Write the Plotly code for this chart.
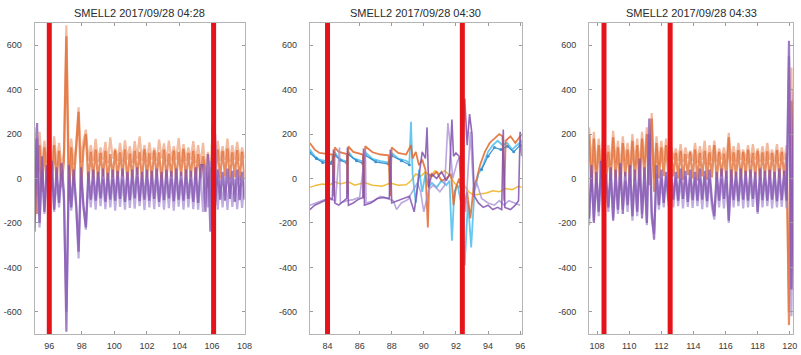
import numpy as np
import plotly.graph_objects as go

# ---------------------------------------------------------------------------
# Three SMELL2 recordings, 2017/09/28
# ---------------------------------------------------------------------------
titles = ["SMELL2 2017/09/28 04:28", "SMELL2 2017/09/28 04:30", "SMELL2 2017/09/28 04:33"]

# sampling of the dense recordings (start time, step)
p1_start, p1_step = 95.1, 0.15
p3_start, p3_step = 107.5, 0.15

# --- recording 04:28 --------------------------------------------------------
p1_salmon = [230, -80, 210, 60, 170, 70, 165, 40, 190, 60, 160, 50, 120, 690, 40, 180, 60, 150, 320, 70,
             170, 220, 80, 150, 80, 178, 75, 140, 85, 165, 70, 185, 90, 135, 80, 160, 75, 172, 85, 145,
             70, 168, 90, 190, 80, 150, 75, 162, 85, 138, 80, 175, 90, 158, 75, 170, 80, 145, 85, 182,
             75, 155, 80, 140, 85, 168, 70, 150, 60, 160, 40, 120, 30, 240, 60, 170, 80, 145, 85, 180,
             75, 150, 85, 165, 80, 140, 90]
p1_orange = [180, -160, 150, -60, 140, -20, 135, -50, 150, -10, 125, -40, 80, 640, -100, 140, -30, 120, 300, -50,
             130, 200, -20, 120, 0, 130, -10, 115, 10, 125, -15, 110, 5, 128, -5, 118, 10, 130, -10, 112,
             0, 125, 15, 120, -10, 132, 5, 115, -5, 127, 10, 118, -15, 130, 0, 112, 8, 126, -8, 120,
             12, 133, -5, 115, 5, 125, -10, 110, 0, 100, 30, -40, 50, -90, 20, 130, 0, 125, 10, 135,
             -5, 118, 5, 128, -10, 120, 0]
p1_lavender = [-200, 180, -220, 40, -160, 20, -140, 30, -150, 0, -130, 20, -100, -600, 10, -145, 0, -130, -360, 10,
               -135, -230, -10, -130, 0, -140, 10, -125, -5, -138, 5, -130, 0, -145, 10, -128, -5, -140, 5, -132,
               0, -136, 10, -125, -5, -142, 5, -130, 0, -138, 10, -128, -5, -140, 5, -133, 0, -145, 10, -127,
               -5, -140, 5, -130, 0, -138, 10, -140, 20, -150, 60, -130, 80, -220, 200, -140, 0, -130, 10, -142,
               5, -128, 0, -138, 10, -132, 0]
p1_purple = [-240, 250, -200, 100, -150, 60, -120, 80, -140, 50, -110, 70, -60, -690, 60, -130, 40, -110, -330, 50,
             -120, -220, 30, -95, 40, -100, 30, -90, 45, -105, 25, -95, 40, -100, 35, -92, 45, -105, 30, -98,
             40, -90, 50, -102, 30, -95, 40, -100, 35, -92, 45, -105, 30, -98, 40, -90, 35, -102, 45, -95,
             30, -100, 40, -92, 35, -105, 50, -110, 60, 60, -150, 110, -240, 250, -120, 40, -95, 30, -100, 45,
             -92, 35, -105, 40, -98, 30, -95]

# --- recording 04:30 (time, value) -----------------------------------------
p2_orange = [(82.9, 160), (83.2, 130), (83.5, 115), (83.9, 110), (84.3, 108), (84.4, -80), (84.45, 140),
             (84.7, 120), (85.0, 112), (85.2, 110), (85.25, -70), (85.3, 145), (85.6, 120), (86.0, 110),
             (86.2, 108), (86.25, -90), (86.35, 145), (86.8, 118), (87.3, 108), (87.8, 104), (87.9, -80),
             (88.0, 140), (88.4, 115), (88.9, 108), (89.2, 150), (89.3, 90), (89.5, 120), (89.7, 60),
             (89.9, 85), (90.1, 40), (90.25, -220), (90.35, 20), (90.5, 10), (90.8, 30), (91.1, -10),
             (91.4, 0), (91.7, 20), (91.85, -120), (92.0, -40), (92.2, 0), (92.5, -140), (92.7, -60),
             (92.9, -180), (93.1, -40), (93.3, 0), (93.5, 60), (93.8, 120), (94.1, 160), (94.4, 180),
             (94.7, 200), (94.9, 190), (95.0, -100), (95.1, 170), (95.4, 190), (95.7, 160), (95.9, 180),
             (96.1, 200)]
p2_lightblue = [(82.9, 130), (83.2, 100), (83.5, 85), (83.9, 78), (84.3, 75), (84.45, 118), (84.7, 92),
                (85.0, 80), (85.2, 78), (85.3, 120), (85.6, 92), (86.0, 80), (86.2, 76), (86.35, 118),
                (86.8, 88), (87.3, 78), (87.8, 72), (88.0, 115), (88.4, 90), (88.9, 80), (89.1, 70),
                (89.2, 255), (89.3, 20), (89.5, -110), (89.7, 40), (89.9, -60), (90.1, 20), (90.3, -40),
                (90.5, -20), (90.8, -40), (91.1, -10), (91.4, -30), (91.6, -10), (91.75, -280), (91.9, -60),
                (92.1, -30), (92.35, -120), (92.55, -390), (92.75, -100), (92.95, -310), (93.15, -60),
                (93.4, 20), (93.7, 60), (94.0, 120), (94.3, 150), (94.6, 170), (94.9, 150), (95.2, 160),
                (95.5, 130), (95.8, 150), (96.1, 170)]
p2_blue = [(82.9, 115), (83.3, 90), (83.7, 72), (84.2, 68), (84.45, 105), (84.8, 82), (85.2, 70), (85.3, 108),
           (85.8, 80), (86.2, 68), (86.35, 105), (87.0, 75), (87.8, 65), (88.0, 102), (88.6, 80), (89.1, 62),
           (None, None),
           (93.6, 40), (94.0, 100), (94.4, 140), (94.8, 130), (95.2, 145), (95.6, 120), (96.0, 150)]
p2_yellow = [(82.9, -40), (83.3, -30), (83.7, -25), (84.1, -30), (84.45, -15), (84.8, -25), (85.3, -15),
             (85.7, -30), (86.3, -18), (86.8, -30), (87.4, -35), (87.9, -20), (88.4, -30), (88.9, -28),
             (89.2, -10), (89.5, 20), (89.8, 10), (90.1, 30), (90.4, 10), (90.7, 35), (91.0, 20), (91.3, 35),
             (91.6, 15), (91.9, -20), (92.2, -40), (92.5, -30), (92.8, -60), (93.1, -75), (93.5, -70),
             (93.9, -65), (94.3, -55), (94.7, -60), (95.1, -45), (95.5, -50), (95.9, -35), (96.1, -40)]
p2_lavender = [(82.9, -120), (83.3, -110), (83.7, -100), (84.0, -90), (84.5, -100), (84.75, 140), (84.8, -110),
               (85.2, -100), (85.6, -95), (86.0, -85), (86.36, 130), (86.4, -110), (86.9, -100), (87.3, -80),
               (87.7, -90), (88.1, -100), (88.3, -140), (88.6, -110), (89.0, -95), (89.3, -60), (89.6, -20),
               (89.8, -60), (90.0, -150), (90.3, -50), (90.6, -30), (91.0, -60), (91.3, -30), (91.5, 250),
               (91.6, 180), (91.8, 0), (92.1, 80), (92.3, 100), (92.6, -150), (92.9, 210), (93.1, -60),
               (93.3, -20), (93.6, -90), (94.0, -110), (94.4, -120), (94.7, -100), (95.0, -120), (95.3, -100),
               (95.6, -110), (96.0, -120)]
p2_purple = [(82.9, -140), (83.2, -120), (83.5, -110), (83.8, -100), (84.1, -85), (84.3, -95), (84.37, 130),
             (84.45, -110), (84.7, -120), (85.0, -100), (85.2, -90), (85.24, 140), (85.3, -120), (85.6, -110),
             (85.9, -95), (86.2, -85), (86.24, 135), (86.3, -120), (86.7, -110), (87.1, -90), (87.5, -85),
             (87.85, -90), (87.91, 130), (88.0, -110), (88.4, -100), (88.8, -90), (89.1, -80), (89.4, -150),
             (89.6, -40), (89.9, 120), (90.1, 90), (90.2, 230), (90.3, -40), (90.5, 20), (90.8, 0),
             (91.1, 30), (91.4, -10), (91.6, 20), (91.75, 265), (91.85, 100), (92.0, 115), (92.2, 100),
             (92.3, -20), (92.55, 360), (92.7, 150), (92.85, 290), (93.0, 200), (93.15, -80), (93.4, -110),
             (93.7, -130), (94.0, -120), (94.3, -140), (94.6, -130), (94.85, -140), (94.95, 220),
             (95.05, -130), (95.4, -140), (95.7, -120), (95.9, -100), (96.0, 210), (96.1, 100)]

# --- recording 04:33 --------------------------------------------------------
p3_salmon = [230, 60, 210, 40, 180, 70, 200, 50, 150, 60, 215, 70, 170, 40, 190, 80, 160, 50, 200, 60,
             180, 40, 210, 70, 230, 60, 295, 0, 190, 60, 170, 80, 180, 70, 150, 85, 135, 80, 155, 75,
             140, 90, 125, 80, 160, 70, 145, 85, 170, 60, 150, 80, 170, 75, 135, 85, 140, 70, 205, 80,
             145, 75, 160, 85, 130, 80, 150, 70, 155, 85, 135, 75, 145, 80, 160, 85, 130, 75, 155, 80,
             140, 85, 150, -600, 500, -400, 300]
p3_orange = [200, -60, 180, -40, 150, 0, 170, -30, 120, -10, 185, 0, 140, -50, 160, 10, 130, -20, 170, -10,
             150, -40, 180, 0, 200, -30, 270, -60, 160, 0, 140, 10, 150, 0, 120, 10, 115, 0, 125, -5,
             110, 15, 120, 0, 130, -10, 115, 10, 125, -5, 118, 5, 150, -10, 120, 10, 112, 0, 185, -20,
             118, 5, 128, -5, 120, 10, 130, 0, 115, 5, 125, -10, 118, 10, 122, -5, 115, 5, 128, 0,
             120, 10, 115, -660, 350, -500, 200]
p3_lavender = [-210, 20, -190, 0, -170, 40, -200, -10, -150, 20, -180, 0, -160, 30, -140, -10, -150, 20, -190, 0,
               -170, 50, -160, 10, -210, 200, -180, -250, 20, -140, 0, -130, 10, -125, 0, -130, 5, -125, 0, -135,
               10, -128, 0, -132, 5, -125, 0, -138, 10, -130, 0, -128, -185, 5, -130, 0, -135, 10, -200, 0,
               -130, 5, -125, 0, -135, 10, -130, 0, -128, 5, -160, 0, -130, 10, -125, 0, -135, 5, -130, 0,
               -128, 10, -135, 550, -620, 300, -200]
p3_purple = [-180, 60, -200, 30, -150, 80, -170, 20, -130, 50, -190, 40, -140, 70, -160, 30, -120, 60, -170, 40,
             -150, 90, -180, 50, -200, 270, -150, -275, 60, -120, 40, -110, 30, -100, 40, -95, 30, -100, 45, -92,
             35, -105, 40, -98, 30, -100, 45, -95, 35, -102, 40, -95, -170, 30, -100, 45, -92, 35, -190, 40,
             -98, 30, -102, 45, -95, 35, -100, 40, -92, 30, -150, 45, -98, 35, -100, 40, -95, 30, -102, 45,
             -98, 35, -100, 620, -500, 400, -300]

# red event markers for each recording
event_times = [[96.0, 106.1], [84.0, 92.4], [108.43, 112.55]]

# axis ranges / ticks
x_ranges = [[95.1, 108.0], [82.9, 96.1], [107.5, 120.2]]
x_tick_vals = [[96, 98, 100, 102, 104, 106, 108], [84, 86, 88, 90, 92, 94, 96],
               [108, 110, 112, 114, 116, 118, 120]]
y_range = [-700, 700]
y_tick_vals = [-600, -400, -200, 0, 200, 400, 600]

# colours
c_salmon = "#EE9E78"
c_orange = "#E0692F"
c_lavender = "#A48BD3"
c_purple = "#8250AE"
c_lightblue = "#4DBEEE"
c_blue = "#1F80C8"
c_yellow = "#EDB120"
c_red = "#E5141B"

# panel placement (pixels in the 801 x 355 page)
W, H = 801, 355
x_px = [(35, 247), (313, 527), (595, 801)]
y_top_px, y_bot_px = 23, 334

fig = go.Figure()


def dense(values, start, step, color, axis, width=2.2, opacity=0.75):
    t = start + step * np.arange(len(values))
    fig.add_trace(go.Scatter(x=t, y=values, mode="lines", xaxis="x" + axis, yaxis="y" + axis,
                             line=dict(color=color, width=width), opacity=opacity,
                             hoverinfo="skip", showlegend=False))


def pairs(points, color, axis, width=1.6, opacity=0.85, markers=False):
    t = [p[0] for p in points]
    v = [p[1] for p in points]
    fig.add_trace(go.Scatter(x=t, y=v, mode="lines+markers" if markers else "lines",
                             xaxis="x" + axis, yaxis="y" + axis,
                             line=dict(color=color, width=width), marker=dict(size=3, color=color),
                             opacity=opacity, connectgaps=False, hoverinfo="skip", showlegend=False))


# recording 04:28
dense(p1_salmon, p1_start, p1_step, c_salmon, "", opacity=0.7)
dense(p1_orange, p1_start, p1_step, c_orange, "", opacity=0.75)
dense(p1_lavender, p1_start, p1_step, c_lavender, "", opacity=0.7)
dense(p1_purple, p1_start, p1_step, c_purple, "", opacity=0.75)

# recording 04:30
pairs(p2_yellow, c_yellow, "2", width=1.5)
pairs(p2_lightblue, c_lightblue, "2", width=1.8)
pairs(p2_blue, c_blue, "2", width=1.2, markers=True)
pairs(p2_orange, c_orange, "2", width=1.8)
pairs(p2_lavender, c_lavender, "2", width=1.6, opacity=0.75)
pairs(p2_purple, c_purple, "2", width=1.6)

# recording 04:33
dense(p3_salmon, p3_start, p3_step, c_salmon, "3", opacity=0.7)
dense(p3_orange, p3_start, p3_step, c_orange, "3", opacity=0.75)
dense(p3_lavender, p3_start, p3_step, c_lavender, "3", opacity=0.7)
dense(p3_purple, p3_start, p3_step, c_purple, "3", opacity=0.75)

y_dom = [1 - y_bot_px / H, 1 - y_top_px / H]
axis_font = dict(family="Liberation Sans, Arial, sans-serif", size=9, color="#3a3a3a")
layout = dict(width=W, height=H, margin=dict(l=0, r=0, t=0, b=0),
              paper_bgcolor="white", plot_bgcolor="white", showlegend=False)

shapes = []
annotations = []
for k in range(3):
    suffix = "" if k == 0 else str(k + 1)
    layout["xaxis" + suffix] = dict(
        domain=[x_px[k][0] / W, x_px[k][1] / W], range=x_ranges[k], anchor="y" + suffix,
        tickvals=x_tick_vals[k], ticktext=[str(v) for v in x_tick_vals[k]],
        ticks="inside", ticklen=3, tickcolor="#9a9a9a", showline=True, mirror="ticks",
        linecolor="#b4b4b4", linewidth=1, showgrid=False, zeroline=False, tickfont=axis_font,
        ticklabelstandoff=3)
    layout["yaxis" + suffix] = dict(
        domain=y_dom, range=y_range, anchor="x" + suffix,
        tickvals=y_tick_vals, ticktext=[str(v) for v in y_tick_vals],
        ticks="inside", ticklen=3, tickcolor="#9a9a9a", showline=True, mirror="ticks",
        linecolor="#b4b4b4", linewidth=1, showgrid=False, zeroline=False, tickfont=axis_font,
        ticklabelstandoff=10)
    for tv in event_times[k]:
        shapes.append(dict(type="line", xref="x" + suffix, yref="y" + suffix + " domain",
                           x0=tv, x1=tv, y0=0, y1=1, line=dict(color=c_red, width=5), layer="above"))
    annotations.append(dict(text=titles[k], xref="paper", yref="paper",
                            x=(x_px[k][0] + x_px[k][1]) / 2 / W, y=1 - 13 / H,
                            xanchor="center", yanchor="middle", showarrow=False,
                            font=dict(family="Liberation Sans, Arial, sans-serif", size=11, color="#2a2a2a")))

layout["shapes"] = shapes
layout["annotations"] = annotations
fig.update_layout(**layout)
fig.write_html("out.html")
